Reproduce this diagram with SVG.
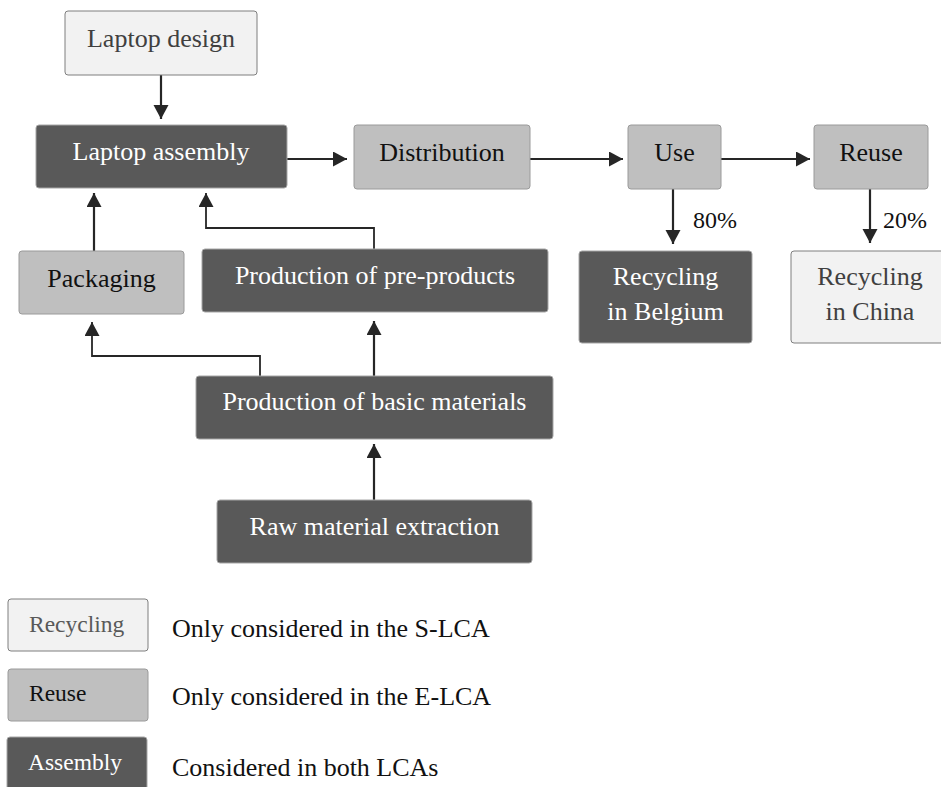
<svg xmlns="http://www.w3.org/2000/svg" width="941" height="787" viewBox="0 0 941 787">
<style>
.s{fill:#f2f2f2;stroke:#7f7f7f;stroke-width:1}
.e{fill:#bfbfbf;stroke:#9a9a9a;stroke-width:1}
.b{fill:#595959;stroke:#a6a6a6;stroke-width:1}
.ts{fill:#404040}
.te{fill:#111111}
.tb{fill:#ffffff}
.c{text-anchor:middle}
.conn{fill:none;stroke:#262626;stroke-width:2.2}
.elb{fill:none;stroke:#262626;stroke-width:1.8}
</style>
<defs>
<marker id="ah" markerUnits="userSpaceOnUse" markerWidth="16" markerHeight="16" refX="14" refY="7.5" orient="auto" viewBox="0 0 16 16">
<path d="M0,0 L14,7.5 L0,15 z" fill="#262626"/>
</marker>
</defs>
<rect width="941" height="787" fill="#ffffff"/>
<g id="connectors">
<path class="conn" d="M161,75 V119" marker-end="url(#ah)"/>
<path class="conn" d="M287,159 H347" marker-end="url(#ah)"/>
<path class="conn" d="M530,159 H623" marker-end="url(#ah)"/>
<path class="conn" d="M721,159 H810" marker-end="url(#ah)"/>
<path class="conn" d="M673,189 V244" marker-end="url(#ah)"/>
<path class="conn" d="M870,189 V243" marker-end="url(#ah)"/>
<path class="conn" d="M94,251 V193" marker-end="url(#ah)"/>
<path class="elb" d="M374,249 V228 H206 V193" marker-end="url(#ah)"/>
<path class="conn" d="M374,376 V321" marker-end="url(#ah)"/>
<path class="elb" d="M260,376 V356 H92 V322" marker-end="url(#ah)"/>
<path class="conn" d="M374,500 V444" marker-end="url(#ah)"/>
<text class="te" x="693" y="228" font-family="Liberation Serif" font-size="24">80%</text>
<text class="te" x="883" y="228" font-family="Liberation Serif" font-size="24">20%</text>
</g>
<g id="laptop-design"><rect class="s" x="65" y="11" width="192" height="64" rx="3"/><text class="ts c" x="161" y="47" font-family="Liberation Serif" font-size="26">Laptop design</text></g>
<g id="laptop-assembly"><rect class="b" x="36" y="125" width="251" height="63" rx="3"/><text class="tb c" x="161" y="160" font-family="Liberation Serif" font-size="26">Laptop assembly</text></g>
<g id="distribution"><rect class="e" x="354" y="125" width="176" height="64" rx="3"/><text class="te c" x="442" y="161" font-family="Liberation Serif" font-size="26">Distribution</text></g>
<g id="use"><rect class="e" x="628" y="125" width="93" height="64" rx="3"/><text class="te c" x="674.5" y="161" font-family="Liberation Serif" font-size="26">Use</text></g>
<g id="reuse"><rect class="e" x="814" y="125" width="114" height="64" rx="3"/><text class="te c" x="871" y="161" font-family="Liberation Serif" font-size="26">Reuse</text></g>
<g id="recycling-belgium"><rect class="b" x="579" y="251" width="173" height="92" rx="3"/><text class="tb c" x="665.5" y="285" font-family="Liberation Serif" font-size="26">Recycling</text><text class="tb c" x="665.5" y="320" font-family="Liberation Serif" font-size="26">in Belgium</text></g>
<g id="recycling-china"><rect class="s" x="791" y="251" width="160" height="92" rx="3"/><text class="ts c" x="870" y="285" font-family="Liberation Serif" font-size="26">Recycling</text><text class="ts c" x="870" y="320" font-family="Liberation Serif" font-size="26">in China</text></g>
<g id="packaging"><rect class="e" x="19" y="251" width="165" height="63" rx="3"/><text class="te c" x="101.5" y="287" font-family="Liberation Serif" font-size="26">Packaging</text></g>
<g id="pre-products"><rect class="b" x="202" y="249" width="346" height="63" rx="3"/><text class="tb c" x="375" y="284" font-family="Liberation Serif" font-size="26">Production of pre-products</text></g>
<g id="basic-materials"><rect class="b" x="196" y="376" width="357" height="63" rx="3"/><text class="tb c" x="374.5" y="410" font-family="Liberation Serif" font-size="26">Production of basic materials</text></g>
<g id="raw-extraction"><rect class="b" x="217" y="500" width="315" height="63" rx="3"/><text class="tb c" x="374.5" y="535" font-family="Liberation Serif" font-size="26">Raw material extraction</text></g>
<g id="legend-slca"><rect class="s" x="8" y="599" width="140" height="52" rx="3"/><text x="29" y="632" fill="#595959" font-family="Liberation Serif" font-size="23.5">Recycling</text><text class="te" x="172" y="637" font-family="Liberation Serif" font-size="26">Only considered in the S-LCA</text></g>
<g id="legend-elca"><rect class="e" x="8" y="669" width="140" height="52" rx="3"/><text class="te" x="29" y="701" font-family="Liberation Serif" font-size="23.5">Reuse</text><text class="te" x="172" y="705" font-family="Liberation Serif" font-size="26">Only considered in the E-LCA</text></g>
<g id="legend-both"><rect class="b" x="7" y="737" width="140" height="60" rx="3"/><text class="tb" x="28" y="770" font-family="Liberation Serif" font-size="23.5">Assembly</text><text class="te" x="172" y="776" font-family="Liberation Serif" font-size="26">Considered in both LCAs</text></g>
</svg>
